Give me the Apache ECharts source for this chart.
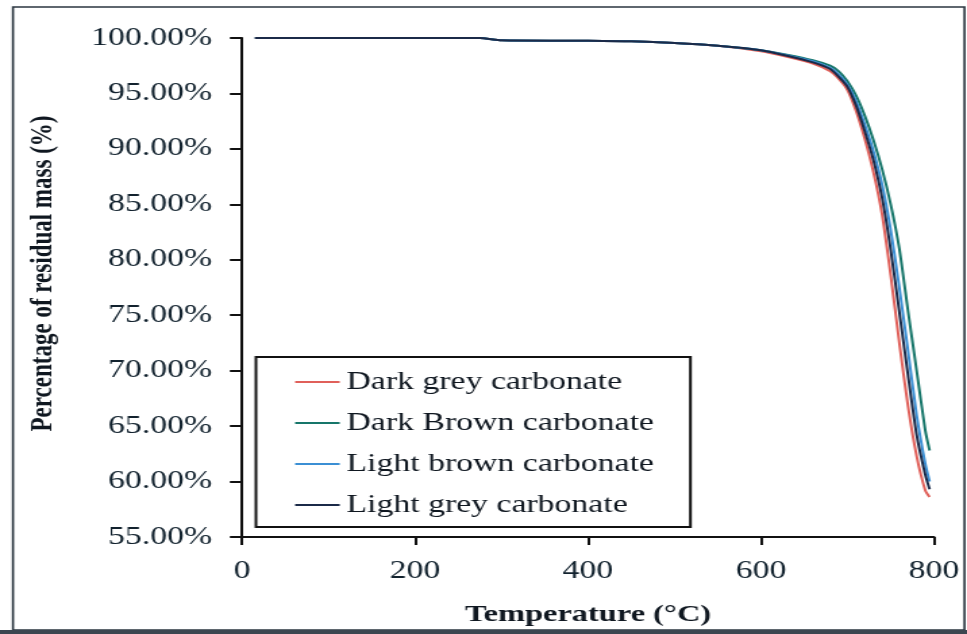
<!DOCTYPE html>
<html>
<head>
<meta charset="utf-8">
<script src="https://cdn.jsdelivr.net/npm/echarts@6/dist/echarts.min.js"></script>
<style>
  html, body { margin: 0; padding: 0; background: #fff; overflow: hidden; }
  #wrap { width: 967px; height: 634px; overflow: hidden; }
  /* the figure is laid out on a narrower canvas and widened horizontally */
  #chart { width: 716px; height: 634px; transform: scaleX(1.3506); transform-origin: 0 0; }
</style>
</head>
<body>
<div id="wrap"><div id="chart"></div></div>
<script>
// Temperature grid (°C) shared by all four samples
const temperatureC = [15, 100, 200, 275, 300, 400, 450, 500, 550, 600, 630, 660, 680, 690, 700, 710, 720, 730, 740, 750, 760, 770, 780, 790, 795];

// Residual mass (%) of each carbonate sample
const darkGrey   = [100, 100, 100, 100, 99.8, 99.75, 99.7, 99.55, 99.3, 98.8, 98.3, 97.7, 97.0, 96.3, 95.3, 93.4, 90.9, 87.9, 84.1, 78.6, 72.5, 66.8, 62.3, 59.2, 58.6];
const darkBrown  = [100, 100, 100, 100, 99.8, 99.75, 99.7, 99.55, 99.3, 98.9, 98.5, 98.0, 97.5, 97.0, 96.1, 94.8, 93.0, 90.8, 88.2, 85.0, 81.0, 75.4, 70.0, 64.6, 62.8];
const lightBrown = [100, 100, 100, 100, 99.8, 99.75, 99.7, 99.55, 99.3, 98.9, 98.45, 97.9, 97.3, 96.7, 95.8, 94.3, 92.2, 89.8, 86.8, 82.7, 77.5, 71.8, 66.0, 61.6, 60.0];
const lightGrey  = [100, 100, 100, 100, 99.8, 99.75, 99.7, 99.55, 99.3, 98.9, 98.4, 97.8, 97.2, 96.5, 95.6, 93.9, 91.6, 89.0, 85.6, 80.9, 75.3, 69.6, 64.2, 60.6, 59.3];

const seriesNames = ['Dark grey carbonate', 'Dark Brown carbonate', 'Light brown carbonate', 'Light grey carbonate'];
const seriesColors = ['#e0605a', '#17766a', '#3b8fd4', '#1b2a48'];
const seriesValues = [darkGrey, darkBrown, lightBrown, lightGrey];

const xTicks = { min: 0, max: 800, step: 200 };
const yTicks = { min: 55, max: 100, step: 5 };

const serif = "'Liberation Serif', 'Times New Roman', serif";
const ink = '#0f1720';
const labelInk = '#12222e';

const chart = echarts.init(document.getElementById('chart'), null, { renderer: 'canvas' });

chart.setOption({
  backgroundColor: '#ffffff',
  animation: false,
  grid: { left: 179.2, right: 24.5, top: 38, bottom: 97, containLabel: false },
  graphic: [
    {
      type: 'rect', silent: true, z: 0,
      shape: { x: 9.6, y: 7, width: 704.5, height: 623 },
      style: { fill: 'none', stroke: '#2b3640', lineWidth: 1.6 }
    },
    {
      type: 'rect', silent: true, z: 0,
      shape: { x: 0, y: 630, width: 716, height: 4 },
      style: { fill: '#3b4650' }
    }
  ],
  legend: {
    orient: 'vertical',
    left: 189.5,
    top: 357,
    padding: [12.5, 27, 9.5, 29],
    itemGap: 16,
    itemWidth: 33,
    itemHeight: 2,
    icon: 'rect',
    borderColor: '#111',
    borderWidth: 2,
    backgroundColor: '#fff',
    textStyle: { fontFamily: serif, fontSize: 25, color: ink },
    data: seriesNames
  },
  xAxis: {
    type: 'value',
    min: xTicks.min, max: xTicks.max, interval: xTicks.step,
    name: 'Temperature (°C)',
    nameLocation: 'middle',
    nameGap: 66,
    nameTextStyle: { fontFamily: serif, fontSize: 24, fontWeight: 'bold', color: ink },
    axisLine: { lineStyle: { color: '#111', width: 2 } },
    axisTick: { show: true, inside: false, length: 8, lineStyle: { color: '#111', width: 2 } },
    axisLabel: { margin: 22, fontFamily: serif, fontSize: 25, color: labelInk },
    splitLine: { show: false }
  },
  yAxis: {
    type: 'value',
    min: yTicks.min, max: yTicks.max, interval: yTicks.step,
    name: 'Percentage of residual mass (%)',
    nameLocation: 'middle',
    nameGap: 136,
    nameTextStyle: { fontFamily: serif, fontSize: 23, fontWeight: 'bold', color: ink, padding: [0, 0, 0, 28] },
    axisLine: { show: true, lineStyle: { color: '#111', width: 2 } },
    axisTick: { show: true, inside: false, length: 9, lineStyle: { color: '#111', width: 2 } },
    axisLabel: {
      margin: 22, fontFamily: serif, fontSize: 25, color: labelInk,
      formatter: v => v.toFixed(2) + '%'
    },
    splitLine: { show: false }
  },
  series: seriesNames.map((name, i) => ({
    name,
    type: 'line',
    symbol: 'none',
    smooth: 0.2,
    z: 3 + i,
    lineStyle: { color: seriesColors[i], width: 2 },
    itemStyle: { color: seriesColors[i] },
    data: temperatureC.map((t, k) => [t, seriesValues[i][k]])
  }))
});
</script>
</body>
</html>
